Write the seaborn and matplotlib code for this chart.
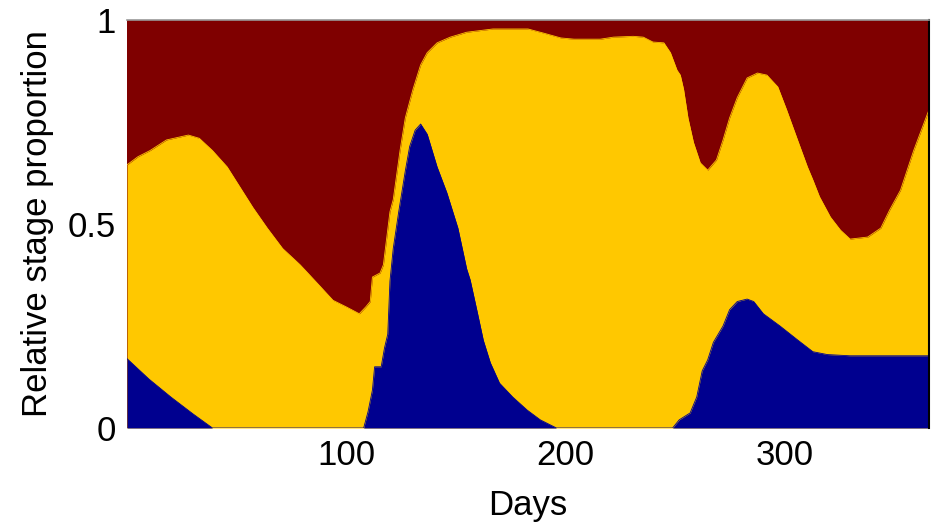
import matplotlib
matplotlib.use("Agg")
import matplotlib.pyplot as plt
import seaborn as sns
import numpy as np
import pandas as pd

# Cumulative proportion of stage 1 (blue)
blue_days = [0, 10, 20, 30, 39, 108, 110, 112, 113, 116, 117.5, 119, 120, 121.5, 124, 127, 129,
             131.5, 134, 137, 141.5, 146, 151, 155, 156.6, 160, 162.6, 165.8, 170, 176, 182.6,
             188.6, 196, 249, 252, 257, 260, 262.5, 265, 267.6, 272, 275, 278.5, 283, 286, 290.4,
             298, 306, 313, 319.6, 330, 366]
blue_vals = [0.17, 0.12, 0.076, 0.035, 0.0, 0.0, 0.04, 0.093, 0.15, 0.15, 0.196, 0.23, 0.36, 0.44,
             0.53, 0.63, 0.69, 0.73, 0.745, 0.72, 0.64, 0.576, 0.49, 0.39, 0.363, 0.28, 0.215, 0.16,
             0.11, 0.076, 0.044, 0.02, 0.0, 0.0, 0.02, 0.037, 0.076, 0.14, 0.167, 0.21, 0.25, 0.29,
             0.31, 0.316, 0.31, 0.28, 0.25, 0.216, 0.187, 0.18, 0.177, 0.177]

# Cumulative proportion of stages 1+2 (top of yellow)
yellow_days = [0, 5, 10.5, 18, 28, 33, 39, 45.7, 51.6, 57.5, 64, 71, 79, 86.8, 94, 100, 106, 109,
               111, 112, 115.5, 117, 120, 121.5, 124.6, 127, 129, 130.5, 134, 137, 141.5, 147.5,
               155, 167, 183, 190, 198, 204, 216, 222, 231, 235.6, 240, 245, 248, 251, 252.5, 254,
               256, 258.5, 261.6, 265, 269, 272, 275, 278.5, 283, 287.7, 292, 297, 301, 306, 310.5,
               313, 316, 321, 325.6, 330, 338, 344, 348, 353, 359, 366]
yellow_vals = [0.645, 0.665, 0.68, 0.706, 0.718, 0.71, 0.68, 0.64, 0.59, 0.54, 0.49, 0.44, 0.40,
               0.355, 0.313, 0.297, 0.28, 0.297, 0.31, 0.37, 0.38, 0.40, 0.53, 0.56, 0.68, 0.76,
               0.80, 0.83, 0.89, 0.92, 0.944, 0.958, 0.97, 0.978, 0.978, 0.968, 0.956, 0.953, 0.953,
               0.958, 0.96, 0.958, 0.946, 0.944, 0.92, 0.877, 0.865, 0.83, 0.76, 0.70, 0.65, 0.632,
               0.657, 0.706, 0.76, 0.81, 0.858, 0.87, 0.865, 0.836, 0.78, 0.706, 0.64, 0.608, 0.567,
               0.517, 0.485, 0.463, 0.468, 0.49, 0.534, 0.583, 0.68, 0.78]

x_ticks = [100, 200, 300]
y_ticks = [0, 0.5, 1]
y_tick_labels = ["0", "0.5", "1"]

c_red = "#7F0000"
c_yel = "#FFC800"
c_blu = "#00008F"

sns.set_theme(style="white")
plt.rcParams['font.family'] = ['Liberation Sans', 'DejaVu Sans']

fig = plt.figure(figsize=(9.34, 5.29), dpi=100)
ax = fig.add_axes([127/934, 1-428/529, (929-127)/934, (428-20)/529])

dfb = pd.DataFrame({"day": blue_days, "p": blue_vals})
dfy = pd.DataFrame({"day": yellow_days, "p": yellow_vals})

ax.fill_between([0, 366], [0, 0], [1, 1], color=c_red, linewidth=0)
ax.fill_between(dfy["day"], 0, dfy["p"], color=c_yel, linewidth=0)
ax.fill_between(dfb["day"], 0, dfb["p"], color=c_blu, linewidth=0)
sns.lineplot(data=dfy, x="day", y="p", ax=ax, color=c_yel, linewidth=0.6)
sns.lineplot(data=dfb, x="day", y="p", ax=ax, color=c_blu, linewidth=0.6)

ax.set_xlim(0, 366)
ax.set_ylim(0, 1)
ax.set_xticks(x_ticks)
ax.set_yticks(y_ticks)
ax.set_yticklabels(y_tick_labels)
ax.tick_params(axis='both', labelsize=25, length=0, pad=8, colors='black')
ax.set_xlabel("Days", fontsize=25, labelpad=12, color='black')
ax.set_ylabel("Relative stage proportion", fontsize=25, labelpad=10, color='black')

for s in ["left", "bottom"]:
    ax.spines[s].set_visible(False)
ax.spines["top"].set_color("#999999")
ax.spines["top"].set_linewidth(1.2)
ax.spines["right"].set_color("black")
ax.spines["right"].set_linewidth(1.5)

fig.savefig("out.png", dpi=100)
